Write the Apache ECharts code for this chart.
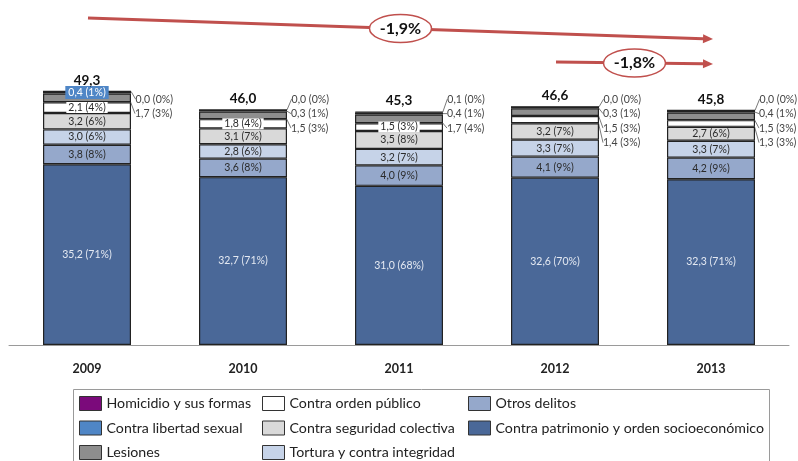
<!DOCTYPE html>
<html>
<head>
<meta charset="utf-8">
<script src="https://cdn.jsdelivr.net/npm/echarts@6/dist/echarts.min.js"></script>
<style>
  html, body { margin: 0; background: #fff; }
  #chart { width: 798px; height: 461px; }
</style>
</head>
<body>
<div id="chart"></div>
<script>
// data (millions of euros, share of yearly total)
const years = ['2009', '2010', '2011', '2012', '2013'];
const totals = [49.3, 46.0, 45.3, 46.6, 45.8];
const patrimonio = [35.2, 32.7, 31.0, 32.6, 32.3];
const otros = [3.8, 3.6, 4.0, 4.1, 4.2];
const tortura = [3.0, 2.8, 3.2, 3.3, 3.3];
const seguridad = [3.2, 3.1, 3.5, 3.2, 2.7];
const ordenPublico = [2.1, 1.8, 1.5, 1.4, 1.3];
const lesiones = [1.7, 1.5, 1.7, 1.5, 1.5];
const libertadSexual = [0.4, 0.3, 0.4, 0.3, 0.4];
const homicidio = [0.0, 0.0, 0.1, 0.0, 0.0];
const trends = [
  { label: '-1,9%', from: 0, to: 4 },
  { label: '-1,8%', from: 3, to: 4 }
];

const FONT = 'Lato';

// bottom to top
const stackDefs = [
  { name: 'Contra patrimonio y orden socioeconómico', data: patrimonio, color: '#4a6898', text: '#e4e9f2' },
  { name: 'Otros delitos', data: otros, color: '#95a8cb', text: '#2b2b2b' },
  { name: 'Tortura y contra integridad', data: tortura, color: '#c6d3e8', text: '#2b2b2b' },
  { name: 'Contra seguridad colectiva', data: seguridad, color: '#d9d9d9', text: '#2b2b2b' },
  { name: 'Contra orden público', data: ordenPublico, color: '#ffffff', text: '#2b2b2b' },
  { name: 'Lesiones', data: lesiones, color: '#8e8e8e', text: '#2b2b2b' },
  { name: 'Contra libertad sexual', data: libertadSexual, color: '#4f86c6', text: '#ffffff' },
  { name: 'Homicidio y sus formas', data: homicidio, color: '#7b0a7b', text: '#2b2b2b' }
];

// which labels sit to the right of the bar, and on which row (-1 = inside)
const outsideRow = {
  'Homicidio y sus formas': [0, 0, 0, 0, 0],
  'Contra libertad sexual': [-1, 1, 1, 1, 1],
  'Lesiones': [1, 2, 2, 2, 2],
  'Contra orden público': [-1, -1, -1, 3, 3]
};
const outsideLabelValue = 47.9;
const rowStep = 14.5;

function fmt(v, i) {
  return v.toFixed(1).replace('.', ',') + ' (' + Math.round(v / totals[i] * 100) + '%)';
}

const chart = echarts.init(document.getElementById('chart'));

const series = stackDefs.map(function (d) {
  const rows = outsideRow[d.name];
  return {
    name: d.name,
    type: 'bar',
    stack: 'a',
    barWidth: 88,
    itemStyle: { color: d.color, borderColor: '#222', borderWidth: 1.2 },
    label: {
      show: true,
      position: 'inside',
      fontFamily: FONT,
      fontSize: 10.5,
      color: d.text,
      formatter: function (p) { return fmt(p.value, p.dataIndex); }
    },
    labelLine: { show: false, lineStyle: { color: '#555', width: 0.8 } },
    labelLayout: function (p) {
      if (!rows || rows[p.dataIndex] < 0) return {};
      const x = p.rect.x + p.rect.width + 4;
      const y0 = chart.convertToPixel({ gridIndex: 0 }, [p.dataIndex, outsideLabelValue])[1];
      const y = y0 + rows[p.dataIndex] * rowStep;
      return {
        x: x, y: y, align: 'left', verticalAlign: 'middle',
        labelLinePoints: [[p.rect.x + p.rect.width - 3, p.rect.y + p.rect.height / 2], [x - 1, y]]
      };
    },
    data: d.data.map(function (v, i) {
      const item = { value: v };
      const row = rows ? rows[i] : -1;
      if (row >= 0) {
        item.label = { color: '#444' };
        item.labelLine = { show: true };
      } else if (d.name === 'Contra libertad sexual') {
        item.label = { backgroundColor: '#4f86c6', color: '#fff', padding: [1, 3] };
      } else if (d.name === 'Contra orden público') {
        item.label = { backgroundColor: '#fff', padding: [0, 2] };
      }
      return item;
    })
  };
});

series.push({
  name: 'Total',
  type: 'bar',
  stack: 'a',
  barWidth: 88,
  silent: true,
  itemStyle: { color: 'transparent', borderWidth: 0 },
  label: {
    show: true,
    position: 'top',
    distance: 4,
    fontFamily: FONT,
    fontSize: 13.5,
    fontWeight: 'bold',
    color: '#111',
    formatter: function (p) { return totals[p.dataIndex].toFixed(1).replace('.', ','); }
  },
  data: years.map(function () { return 0; })
});

function legend(left, names) {
  return {
    orient: 'vertical',
    left: left,
    top: 396,
    padding: 0,
    itemWidth: 22,
    itemHeight: 14,
    itemGap: 9.5,
    icon: 'rect',
    selectedMode: false,
    itemStyle: { borderColor: '#333', borderWidth: 1 },
    textStyle: { fontFamily: FONT, fontSize: 14.2, lineHeight: 14, color: '#222' },
    data: names
  };
}

const option = {
  animation: false,
  backgroundColor: '#fff',
  textStyle: { fontFamily: FONT },
  grid: { left: 9, right: 9, top: 37, bottom: 116 },
  xAxis: {
    type: 'category',
    data: years,
    axisLine: { lineStyle: { color: '#9a9a9a', width: 1 } },
    axisTick: { show: false },
    axisLabel: { margin: 17, fontFamily: FONT, fontSize: 12.5, fontWeight: 'bold', color: '#222' }
  },
  yAxis: { type: 'value', min: 0, max: 60, show: false, splitLine: { show: false } },
  legend: [
    legend(79, ['Homicidio y sus formas', 'Contra libertad sexual', 'Lesiones']),
    legend(262, ['Contra orden público', 'Contra seguridad colectiva', 'Tortura y contra integridad']),
    legend(468, ['Otros delitos', 'Contra patrimonio y orden socioeconómico'])
  ],
  series: series
};

chart.setOption(option);

// trend arrows anchored to category centres, plus the legend frame
const red = '#c0504d';
const trendY = [[18, 39], [62, 64]];
const graphic = [{
  type: 'rect',
  shape: { x: 73.5, y: 389.5, width: 696, height: 80 },
  style: { fill: 'none', stroke: '#9a9a9a', lineWidth: 1 },
  z: 0
}];
trends.forEach(function (t, k) {
  const x1 = chart.convertToPixel({ xAxisIndex: 0 }, t.from) + 1;
  const x2 = chart.convertToPixel({ xAxisIndex: 0 }, t.to) + 2;
  const y1 = trendY[k][0], y2 = trendY[k][1];
  const ang = Math.atan2(y2 - y1, x2 - x1);
  const hl = 10, hw = 4.5;
  const bx = x2 - hl * Math.cos(ang), by = y2 - hl * Math.sin(ang);
  graphic.push({
    type: 'line',
    shape: { x1: x1, y1: y1, x2: bx, y2: by },
    style: { stroke: red, lineWidth: 3 },
    z: 10
  });
  graphic.push({
    type: 'polygon',
    shape: { points: [[x2, y2], [bx + hw * Math.sin(ang), by - hw * Math.cos(ang)], [bx - hw * Math.sin(ang), by + hw * Math.cos(ang)]] },
    style: { fill: red },
    z: 10
  });
  const cx = (x1 + x2) / 2, cy = (y1 + y2) / 2;
  graphic.push({
    type: 'ellipse',
    shape: { cx: cx, cy: cy, rx: 31, ry: 14 },
    style: { fill: '#fff', stroke: red, lineWidth: 1.5 },
    z: 11
  });
  graphic.push({
    type: 'text',
    x: cx, y: cy,
    style: { text: t.label, fontFamily: FONT, fontSize: 16, fontWeight: 'bold', fill: '#111', align: 'center', verticalAlign: 'middle' },
    z: 12
  });
});
chart.setOption({ graphic: graphic });
</script>
</body>
</html>
